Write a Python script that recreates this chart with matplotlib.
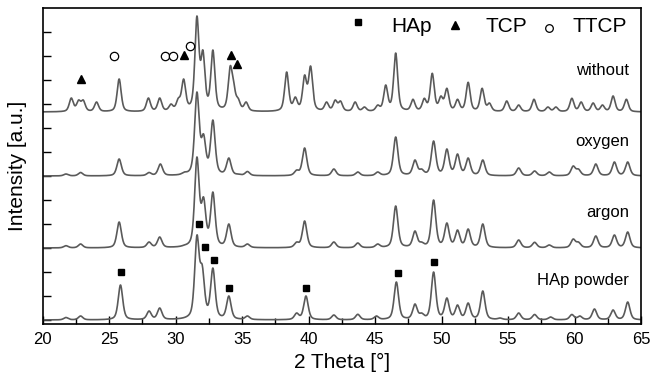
import numpy as np
import matplotlib
matplotlib.use("Agg")
import matplotlib.pyplot as plt

plt.rcParams['font.family'] = ['Liberation Sans', 'DejaVu Sans']

# ---------------- data ----------------
# peak positions (2 theta, deg) and observed peak heights (a.u.) for each pattern
hap_pos = [21.75, 22.85, 25.85, 28.0, 28.8, 31.6, 32.0, 32.8, 34.0, 35.4, 39.1, 39.8, 41.9,
           43.7, 45.1, 46.6, 48.0, 48.5, 49.4, 50.4, 51.2, 52.0, 53.1, 54.4, 55.8, 57.0,
           58.2, 59.8, 60.4, 61.5, 62.9, 64.0]
hap_h = [2.5, 4, 35, 9, 12, 85, 55, 52, 24, 4, 7, 24, 5,
         5.7, 4, 38, 16, 7, 48, 22, 15, 17, 29, 2, 7, 5.5,
         3, 5.5, 4, 11, 10, 18]

argon_pos = [21.75, 22.85, 25.75, 28.0, 28.8, 30.65, 31.6, 32.1, 32.8, 34.0, 35.4, 39.1, 39.7,
             41.9, 43.7, 45.2, 46.55, 48.0, 48.5, 49.4, 50.4, 51.2, 52.0, 53.1, 55.8, 57.0,
             58.1, 59.9, 60.3, 61.6, 63.0, 64.0]
argon_h = [2.3, 4, 26, 6, 11, 3, 91, 51, 56, 24, 4, 6, 27,
           6, 5, 4, 42, 17, 6, 48, 25, 18, 19, 24, 8, 5.7,
           3, 9, 6, 12, 13, 16]

oxygen_pos = [21.75, 22.85, 25.75, 28.0, 28.85, 30.65, 31.6, 32.1, 32.8, 34.0, 34.7, 35.4, 39.1,
              39.7, 41.9, 43.7, 45.2, 46.55, 48.0, 48.5, 49.4, 50.4, 51.2, 52.0, 53.1, 55.8,
              57.0, 58.1, 59.9, 60.3, 61.6, 63.0, 64.0]
oxygen_h = [2, 3.5, 17, 3.5, 12, 4, 84, 42, 56, 18, 2, 4.5, 6,
            28, 7, 4, 4, 39, 16, 7, 35, 27, 22, 18, 16, 8,
            5, 4, 10, 7, 12, 14, 14]

without_pos = [22.15, 22.7, 23.05, 24.05, 25.75, 27.95, 28.8, 29.65, 30.2, 30.6, 31.6, 32.05,
               32.8, 34.1, 34.35, 34.7, 35.3, 38.35, 39.0, 39.7, 40.15, 41.35, 42.0, 42.4,
               43.5, 44.2, 45.2, 45.8, 46.55, 47.85, 48.7, 49.3, 49.95, 50.4, 51.2, 52.0,
               53.05, 53.6, 54.9, 55.8, 56.95, 58.0, 58.6, 59.8, 60.5, 61.4, 62.1, 62.9, 63.9]
without_h = [14, 12, 12, 10, 33, 14, 14, 8, 14, 33, 96, 62,
             62, 46, 32, 14, 10, 40, 15, 37, 46, 10, 12, 11,
             10, 5, 7, 27, 59, 12.7, 13.7, 38.7, 16, 23.7, 12.7, 29.7,
             23.7, 9, 11, 7, 12.7, 5, 5, 13.7, 10, 9, 7, 16, 12.7]

series_names = ["HAp powder", "argon", "oxygen", "without"]
series_pos = [hap_pos, argon_pos, oxygen_pos, without_pos]
series_h = [hap_h, argon_h, oxygen_h, without_h]
offsets = [4, 76, 148, 212]
fwhm = [0.40, 0.40, 0.40, 0.36]

# phase markers: (2theta, intensity)
hap_mark_x = [25.86, 31.75, 32.2, 32.9, 34.0, 39.8, 46.7, 49.45]
hap_mark_y = [52, 100, 77, 64, 36, 36, 51, 62]
tcp_mark_x = [22.9, 30.6, 34.15, 34.6]
tcp_mark_y = [245, 269, 269, 260]
ttcp_mark_x = [25.35, 29.2, 29.77, 31.08]
ttcp_mark_y = [268, 268, 268, 278]

# ---------------- profile ----------------
x = np.linspace(20, 65, 2251)


def profile(d, w, eta=0.5):
    hw = w / 2.0
    lor = 1.0 / (1.0 + (d / hw) ** 2)
    gau = np.exp(-np.log(2) * (d / hw) ** 2)
    return eta * lor + (1 - eta) * gau


def pattern(pos, h, w):
    pos = np.asarray(pos, float)
    h = np.asarray(h, float)
    M = profile(pos[:, None] - pos[None, :], w)
    a = h.copy()
    for _ in range(600):
        a = np.clip(a + 0.4 * (h - M @ a), 0, None)
    return (a[None, :] * profile(x[:, None] - pos[None, :], w)).sum(axis=1)


# ---------------- figure ----------------
fig = plt.figure(figsize=(6.5, 3.76), dpi=100)
ax = fig.add_axes([42.7 / 650, 52 / 376, (641 - 42.7) / 650, 316 / 376])

line_color = "#5a5a5a"
for pos, h, off, w in zip(series_pos, series_h, offsets, fwhm):
    ax.plot(x, off + pattern(pos, h, w), color=line_color, lw=1.2)

ax.plot(hap_mark_x, hap_mark_y, ls="none", marker="s", ms=5, color="black")
ax.plot(tcp_mark_x, tcp_mark_y, ls="none", marker="^", ms=6, color="black")
ax.plot(ttcp_mark_x, ttcp_mark_y, ls="none", marker="o", ms=6, mfc="white",
        mec="black", mew=0.9)

# legend-like header
ax.plot([43.7], [302], ls="none", marker="s", ms=5, color="black")
ax.text(46.2, 297, "HAp", fontsize=15, va="center", ha="left")
ax.plot([51.0], [299], ls="none", marker="^", ms=5.5, color="black")
ax.text(53.3, 297, "TCP", fontsize=15, va="center", ha="left")
ax.plot([58.1], [296], ls="none", marker="o", ms=5.5, mfc="white", mec="black", mew=0.9)
ax.text(59.85, 297, "TTCP", fontsize=15, va="center", ha="left")

# series labels
label_y = [39, 107, 178, 249]
for name, ly in zip(series_names, label_y):
    ax.text(64.1, ly, name, fontsize=12, ha="right", va="baseline")

ax.set_xlim(20, 65)
ax.set_ylim(0, 316)
ax.set_xticks(np.arange(20, 66, 5))
ax.set_xticks(np.arange(22.5, 65, 5), minor=True)
ax.set_yticks(np.arange(4, 300, 24))
ax.set_yticklabels([])
ax.tick_params(axis="both", which="both", direction="in", top=False, right=False)
ax.tick_params(axis="x", which="major", length=6, width=1, labelsize=12, pad=6)
ax.tick_params(axis="x", which="minor", length=4, width=1)
ax.tick_params(axis="y", which="major", length=6, width=1)
for s in ax.spines.values():
    s.set_linewidth(1.2)
ax.set_xlabel("2 Theta [°]", fontsize=15, labelpad=4)
ax.set_ylabel("Intensity [a.u.]", fontsize=15, labelpad=8)

fig.savefig("out.png", dpi=100)
